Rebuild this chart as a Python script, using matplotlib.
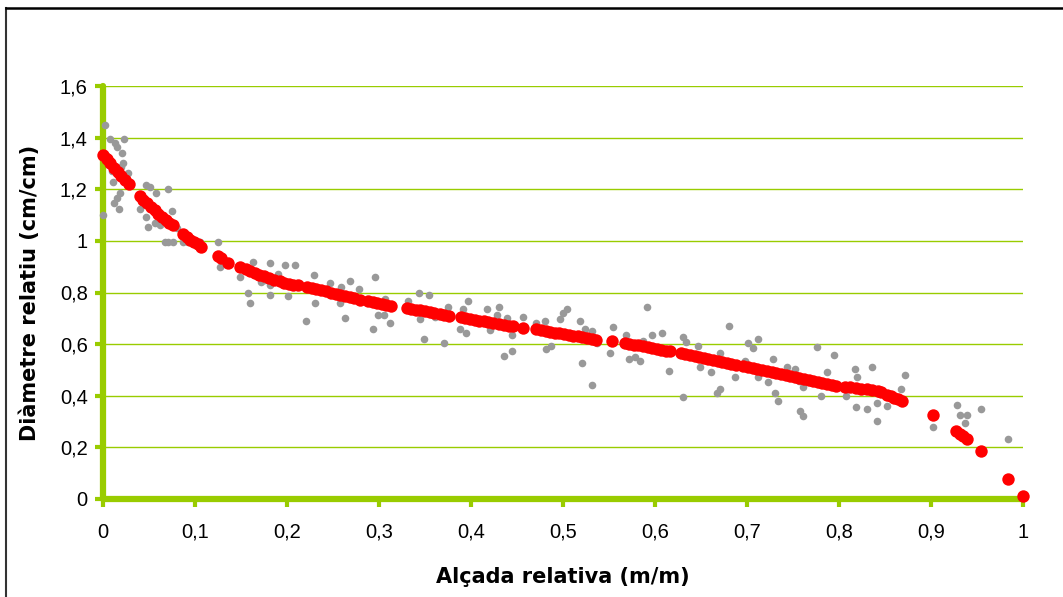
"""
Perfil de tronc: diàmetre relatiu vs alçada relativa.
Punts grisos = observacions, punts vermells = valors ajustats.
"""

import matplotlib
matplotlib.use("Agg")
import matplotlib.pyplot as plt
from matplotlib.lines import Line2D

# 1. DADES

# Observacions (gris)
altura_obs = [
    0.000, 0.002, 0.004, 0.008, 0.008, 0.010, 0.011, 0.012, 0.013, 0.015,
    0.015, 0.017, 0.018, 0.020, 0.021, 0.022, 0.023, 0.026, 0.0275, 0.040,
    0.044, 0.047, 0.047, 0.049, 0.051, 0.054, 0.057, 0.058, 0.062, 0.066,
    0.067, 0.071, 0.071, 0.075, 0.076, 0.080, 0.087, 0.092, 0.095, 0.100,
    0.105, 0.125, 0.127, 0.149, 0.158, 0.160, 0.163, 0.172, 0.176, 0.182,
    0.182, 0.182, 0.190, 0.198, 0.201, 0.209, 0.221, 0.229, 0.230, 0.247,
    0.258, 0.259, 0.263, 0.268, 0.278, 0.293, 0.296, 0.299, 0.305, 0.307,
    0.312, 0.332, 0.343, 0.345, 0.349, 0.354, 0.361, 0.371, 0.375, 0.388,
    0.391, 0.395, 0.397, 0.417, 0.421, 0.428, 0.430, 0.436, 0.439, 0.445,
    0.445, 0.456, 0.471, 0.480, 0.482, 0.487, 0.497, 0.500, 0.504, 0.519,
    0.521, 0.524, 0.531, 0.532, 0.537, 0.551, 0.554, 0.569, 0.572, 0.578,
    0.584, 0.587, 0.591, 0.597, 0.608, 0.615, 0.630, 0.630, 0.634, 0.647,
    0.649, 0.661, 0.667, 0.671, 0.671, 0.680, 0.687, 0.698, 0.701, 0.706,
    0.712, 0.712, 0.723, 0.728, 0.730, 0.734, 0.743, 0.752, 0.757, 0.758,
    0.761, 0.761, 0.776, 0.780, 0.787, 0.795, 0.808, 0.817, 0.819, 0.820,
    0.830, 0.836, 0.841, 0.841, 0.852, 0.867, 0.872, 0.902, 0.928, 0.932,
    0.937, 0.939, 0.954, 0.984, 1.000,
]
diametre_obs = [
    1.100, 1.450, 1.330, 1.394, 1.314, 1.270, 1.230, 1.146, 1.378, 1.365,
    1.165, 1.123, 1.185, 1.288, 1.340, 1.300, 1.394, 1.240, 1.262, 1.123,
    1.150, 1.217, 1.094, 1.055, 1.210, 1.130, 1.068, 1.185, 1.062, 1.090,
    0.997, 1.200, 0.997, 1.117, 0.997, 1.050, 0.997, 0.997, 1.010, 0.997,
    0.997, 0.997, 0.900, 0.861, 0.797, 0.758, 0.920, 0.840, 0.850, 0.913,
    0.830, 0.790, 0.870, 0.907, 0.785, 0.907, 0.690, 0.868, 0.758, 0.836,
    0.758, 0.823, 0.700, 0.845, 0.813, 0.657, 0.859, 0.713, 0.713, 0.774,
    0.683, 0.768, 0.797, 0.696, 0.619, 0.790, 0.706, 0.603, 0.743, 0.657,
    0.736, 0.642, 0.767, 0.736, 0.655, 0.713, 0.745, 0.555, 0.700, 0.635,
    0.573, 0.704, 0.680, 0.690, 0.580, 0.593, 0.696, 0.722, 0.735, 0.690,
    0.526, 0.657, 0.652, 0.440, 0.606, 0.565, 0.665, 0.635, 0.541, 0.549,
    0.535, 0.612, 0.743, 0.635, 0.642, 0.496, 0.629, 0.394, 0.610, 0.593,
    0.510, 0.493, 0.410, 0.565, 0.425, 0.672, 0.472, 0.536, 0.603, 0.584,
    0.619, 0.472, 0.455, 0.541, 0.410, 0.380, 0.513, 0.504, 0.459, 0.342,
    0.433, 0.323, 0.588, 0.400, 0.493, 0.558, 0.400, 0.503, 0.355, 0.472,
    0.348, 0.511, 0.371, 0.302, 0.362, 0.425, 0.480, 0.278, 0.364, 0.326,
    0.293, 0.326, 0.348, 0.231, 0.005,
]

# Valors ajustats (vermell)
altura_aj = [
    0.000, 0.004, 0.008, 0.012, 0.016, 0.020, 0.024, 0.028,
    0.040, 0.044, 0.048, 0.052, 0.056, 0.060, 0.064, 0.068, 0.072, 0.076,
    0.087, 0.091, 0.095, 0.099, 0.103, 0.106,
    0.125, 0.128, 0.136,
    0.149, 0.155, 0.160, 0.165, 0.170, 0.175, 0.180, 0.186, 0.192, 0.197,
    0.202, 0.207, 0.212,
    0.222, 0.227, 0.232, 0.237, 0.242, 0.248, 0.253, 0.258, 0.263, 0.268,
    0.273, 0.279,
    0.288, 0.293, 0.298, 0.303, 0.308, 0.313,
    0.330, 0.335, 0.340, 0.345, 0.350, 0.355, 0.360, 0.366, 0.371, 0.376,
    0.389, 0.394, 0.399, 0.404, 0.409, 0.414, 0.419, 0.424, 0.430, 0.436,
    0.441, 0.446,
    0.457, 0.471, 0.476, 0.481, 0.486, 0.491, 0.496, 0.501, 0.506, 0.511,
    0.516, 0.521, 0.526, 0.531, 0.536,
    0.553, 0.567, 0.572, 0.577, 0.582, 0.587, 0.592, 0.597, 0.602, 0.607,
    0.612, 0.616,
    0.628, 0.633, 0.638, 0.643, 0.648, 0.653, 0.658, 0.663, 0.668, 0.673,
    0.678, 0.683, 0.688, 0.696, 0.701, 0.706, 0.711, 0.716,
    0.722, 0.727, 0.732, 0.737, 0.742, 0.747, 0.752, 0.757, 0.762, 0.767,
    0.772, 0.777, 0.782, 0.787, 0.792, 0.797,
    0.807, 0.812, 0.818, 0.824, 0.830, 0.836, 0.842, 0.846,
    0.852, 0.856, 0.860, 0.864, 0.868,
    0.902, 0.927, 0.931, 0.935, 0.939, 0.954, 0.984, 1.000,
]
diametre_aj = [
    1.333, 1.318, 1.300, 1.283, 1.268, 1.252, 1.236, 1.222,
    1.172, 1.158, 1.145, 1.132, 1.118, 1.106, 1.094, 1.082, 1.071, 1.060,
    1.028, 1.016, 1.005, 0.995, 0.986, 0.978,
    0.940, 0.933, 0.915,
    0.898, 0.890, 0.882, 0.875, 0.868, 0.862, 0.856, 0.850, 0.843, 0.838,
    0.834, 0.830, 0.828,
    0.821, 0.817, 0.812, 0.808, 0.804, 0.800, 0.795, 0.790, 0.786, 0.782,
    0.778, 0.772,
    0.767, 0.763, 0.760, 0.756, 0.752, 0.747,
    0.740, 0.737, 0.734, 0.731, 0.728, 0.724, 0.721, 0.718, 0.714, 0.710,
    0.704, 0.700, 0.697, 0.694, 0.691, 0.688, 0.685, 0.682, 0.678, 0.674,
    0.671, 0.669,
    0.664, 0.657, 0.654, 0.651, 0.648, 0.645, 0.642, 0.639, 0.636, 0.633,
    0.630, 0.627, 0.624, 0.620, 0.616,
    0.612, 0.604, 0.601, 0.598, 0.595, 0.591, 0.588, 0.585, 0.582, 0.578,
    0.575, 0.572,
    0.565, 0.562, 0.558, 0.555, 0.551, 0.547, 0.543, 0.540, 0.536, 0.532,
    0.528, 0.524, 0.519, 0.514, 0.510, 0.507, 0.503, 0.500,
    0.497, 0.493, 0.489, 0.485, 0.482, 0.478, 0.474, 0.470, 0.466, 0.462,
    0.458, 0.454, 0.450, 0.446, 0.442, 0.438,
    0.433, 0.432, 0.431, 0.428, 0.425, 0.422, 0.419, 0.415,
    0.403, 0.398, 0.392, 0.386, 0.380,
    0.326, 0.263, 0.253, 0.243, 0.233, 0.187, 0.077, 0.013,
]

# Etiquetes dels eixos (coma decimal)
ticks_x = [0, 0.1, 0.2, 0.3, 0.4, 0.5, 0.6, 0.7, 0.8, 0.9, 1.0]
etiquetes_x = ["0", "0,1", "0,2", "0,3", "0,4", "0,5", "0,6", "0,7", "0,8", "0,9", "1"]
ticks_y = [0, 0.2, 0.4, 0.6, 0.8, 1.0, 1.2, 1.4, 1.6]
etiquetes_y = ["0", "0,2", "0,4", "0,6", "0,8", "1", "1,2", "1,4", "1,6"]

# 2. FIGURA

plt.rcParams['font.family'] = ['Liberation Sans', 'DejaVu Sans']
verd = '#99CC00'

fig = plt.figure(figsize=(10.63, 5.97), dpi=100)
ax = fig.add_axes([103 / 1063, 1 - 499 / 597, 920 / 1063, 413 / 597])

ax.scatter(altura_obs, diametre_obs, s=30, color='#999999', linewidths=0,
           zorder=3, clip_on=False)
ax.scatter(altura_aj, diametre_aj, s=80, color='#FF0000', linewidths=0,
           zorder=4, clip_on=False)

ax.set_xlim(0, 1)
ax.set_ylim(0, 1.6)
ax.set_xticks(ticks_x)
ax.set_xticklabels(etiquetes_x)
ax.set_yticks(ticks_y)
ax.set_yticklabels(etiquetes_y)

ax.grid(axis='y', color=verd, linewidth=1.0, zorder=0)
ax.set_axisbelow(True)

for lado in ['top', 'right']:
    ax.spines[lado].set_visible(False)
for lado in ['left', 'bottom']:
    ax.spines[lado].set_color(verd)
    ax.spines[lado].set_linewidth(4.5)
    ax.spines[lado].set_capstyle('round')

ax.tick_params(axis='both', colors=verd, length=6, width=3, direction='out',
               labelsize=14.5, labelcolor='black')
ax.tick_params(axis='x', pad=11)
ax.tick_params(axis='y', pad=5)

estil_titol = dict(fontsize=15, fontweight='bold', family='DejaVu Sans')
ax.set_xlabel('Alçada relativa (m/m)', labelpad=18, **estil_titol)
ax.set_ylabel('Diàmetre relatiu (cm/cm)', labelpad=14, **estil_titol)

# Marc exterior (només vores esquerra i superior visibles)
fig.add_artist(Line2D([6 / 1063, 6 / 1063], [0, 1 - 8 / 597], color='#333333',
                      linewidth=1.5, transform=fig.transFigure))
fig.add_artist(Line2D([6 / 1063, 1], [1 - 8 / 597, 1 - 8 / 597], color='black',
                      linewidth=1.8, transform=fig.transFigure))

fig.savefig('out.png', dpi=100)
